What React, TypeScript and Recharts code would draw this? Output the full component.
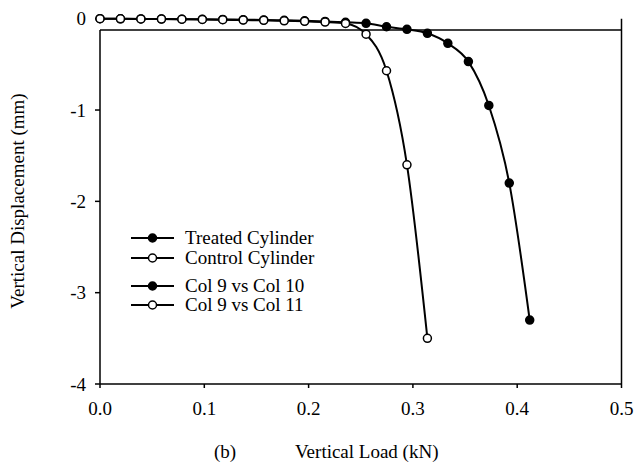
import { Legend, Line, LineChart, ReferenceLine, XAxis, YAxis } from "recharts";

const serif = '"Liberation Serif", "Times New Roman", serif';

// load steps (kN), shared by both cylinders
const loadKN = [
  0, 0.0196, 0.0392, 0.0589, 0.0785, 0.0981, 0.1177, 0.1373, 0.157, 0.1766, 0.1962, 0.2158, 0.2354, 0.2551, 0.2747,
  0.2943, 0.3139, 0.3335, 0.3532, 0.3728, 0.3924, 0.412,
];

const treatedDisp = [
  0, -0.001, -0.002, -0.003, -0.005, -0.006, -0.008, -0.011, -0.014, -0.018, -0.023, -0.03, -0.04, -0.05, -0.088,
  -0.116, -0.16, -0.27, -0.47, -0.95, -1.8, -3.3,
];

const controlDisp = [
  0, -0.001, -0.002, -0.004, -0.006, -0.008, -0.011, -0.015, -0.018, -0.023, -0.029, -0.037, -0.052, -0.17, -0.57,
  -1.6, -3.5,
];

const loadTicks = [0, 0.1, 0.2, 0.3, 0.4, 0.5];
const dispTicks = [-4, -3, -2, -1, 0];
const frameTopY = -0.124;

const legendItems = [
  { name: "Treated Cylinder", fill: "#000000" },
  { name: "Control Cylinder", fill: "#ffffff" },
  { name: "Col 9 vs Col 10", fill: "#000000" },
  { name: "Col 9 vs Col 11", fill: "#ffffff" },
];

const treatedData = treatedDisp.map((y, i) => ({ x: loadKN[i], y }));
const controlData = controlDisp.map((y, i) => ({ x: loadKN[i], y }));

function LegendBox() {
  const rowCenters = [10, 30, 58, 77];
  return (
    <div style={{ position: "relative", width: 240, height: 90 }}>
      {legendItems.map((item, i) => (
        <div
          key={item.name}
          style={{ position: "absolute", left: 0, top: rowCenters[i] - 11, height: 22, display: "flex", alignItems: "center" }}
        >
          <svg width={43} height={22}>
            <line x1={0} y1={11} x2={43} y2={11} stroke="#000" strokeWidth={2} />
            <circle cx={21.5} cy={11} r={4} fill={item.fill} stroke="#000" strokeWidth={1.5} />
          </svg>
          <span style={{ marginLeft: 11, fontSize: 19, fontFamily: serif, lineHeight: "22px", whiteSpace: "nowrap", color: "#000" }}>
            {item.name}
          </span>
        </div>
      ))}
    </div>
  );
}

export default function App() {
  const tickStyle = { fill: "#000", fontSize: 19, fontFamily: serif };
  const lineStyle = { stroke: "#000", strokeWidth: 1.5 };

  return (
    <div style={{ position: "absolute", left: 0, top: 0, width: 634, height: 464, background: "#fff" }}>
      <LineChart width={634} height={464} margin={{ top: 18.7, right: 12.5, bottom: 50, left: 40 }}>
        <XAxis
          type="number"
          dataKey="x"
          domain={[0, 0.5]}
          ticks={loadTicks}
          interval={0}
          tickFormatter={(v: number) => v.toFixed(1)}
          tick={tickStyle}
          tickSize={4}
          tickMargin={14}
          tickLine={lineStyle}
          axisLine={lineStyle}
          height={30}
          label={{
            content: () => (
              <g fontFamily={serif} fontSize={19} fill="#000">
                <text x={225} y={458} textAnchor="middle">
                  (b)
                </text>
                <text x={295} y={458} textAnchor="start">
                  Vertical Load (kN)
                </text>
              </g>
            ),
          }}
        />
        <YAxis
          type="number"
          dataKey="y"
          domain={[-4, 0]}
          ticks={dispTicks}
          interval={0}
          tick={tickStyle}
          tickSize={5}
          tickMargin={9}
          tickLine={lineStyle}
          axisLine={false}
          width={60}
          label={{
            content: () => (
              <text
                x={17}
                y={201}
                transform="rotate(-90 17 201)"
                textAnchor="middle"
                dominantBaseline="central"
                fontFamily={serif}
                fontSize={19}
                fill="#000"
              >
                Vertical Displacement (mm)
              </text>
            ),
          }}
        />
        <ReferenceLine y={frameTopY} stroke="#000" strokeWidth={1.5} />
        <ReferenceLine segment={[{ x: 0, y: -4 }, { x: 0, y: frameTopY }]} stroke="#000" strokeWidth={1.5} />
        <ReferenceLine x={0.5} stroke="#000" strokeWidth={1.5} />
        <Legend
          layout="vertical"
          align="center"
          verticalAlign="middle"
          content={() => <LegendBox />}
          wrapperStyle={{ left: 131, top: 228, width: 240, height: 90 }}
        />
        <Line
          data={treatedData}
          dataKey="y"
          name="Treated Cylinder"
          type="monotone"
          stroke="#000"
          strokeWidth={2}
          dot={{ r: 4, fill: "#000", stroke: "#000", strokeWidth: 1.5 }}
          activeDot={false}
          isAnimationActive={false}
        />
        <Line
          data={controlData}
          dataKey="y"
          name="Control Cylinder"
          type="monotone"
          stroke="#000"
          strokeWidth={2}
          dot={{ r: 4, fill: "#fff", stroke: "#000", strokeWidth: 1.5 }}
          activeDot={false}
          isAnimationActive={false}
        />
      </LineChart>
    </div>
  );
}
